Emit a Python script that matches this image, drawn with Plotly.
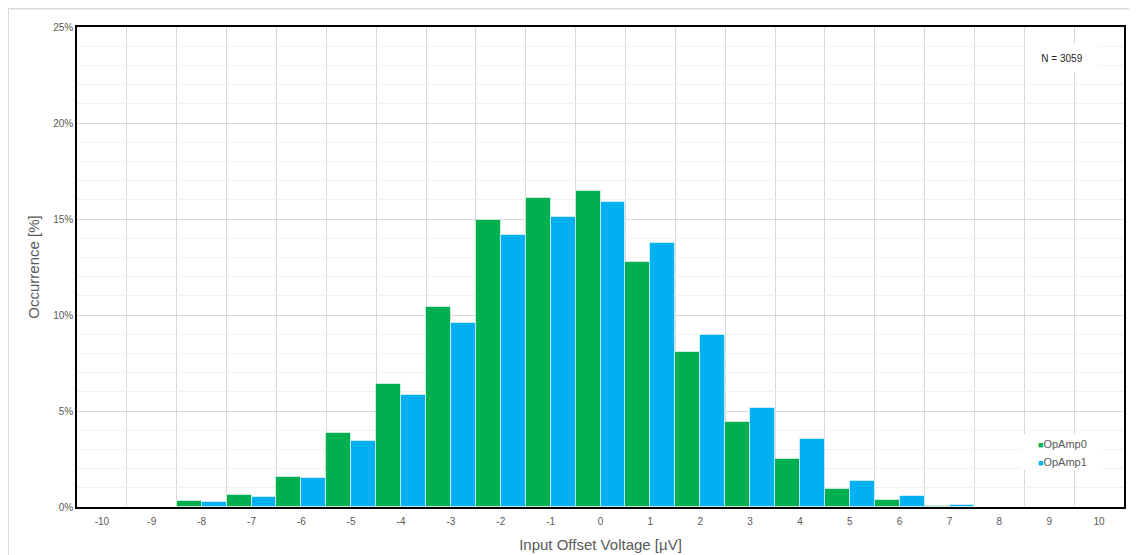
import plotly.graph_objects as go

categories = list(range(-10, 11))
opamp0 = [0, 0, 0.33, 0.62, 1.55, 3.85, 6.4, 10.4, 14.95, 16.1, 16.47, 12.76, 8.07, 4.41, 2.5, 0.94, 0.38, 0.05, 0, 0, 0]
opamp1 = [0, 0, 0.28, 0.52, 1.5, 3.45, 5.83, 9.6, 14.17, 15.1, 15.9, 13.75, 8.96, 5.17, 3.54, 1.37, 0.57, 0.12, 0, 0, 0]
series_names = ["OpAmp0", "OpAmp1"]
series_colors = ["#00B050", "#00B0F0"]
y_ticks = [0, 5, 10, 15, 20, 25]
boundaries = [c + 0.5 for c in categories[:-1]]

FONT = "Liberation Sans, Arial, sans-serif"
GREY = "#595959"

fig = go.Figure()
for name, vals, col in zip(series_names, [opamp0, opamp1], series_colors):
    fig.add_trace(go.Bar(
        x=categories, y=vals, name=name, showlegend=False,
        marker=dict(color=col, line=dict(color="rgba(255,255,255,0.55)", width=1)),
    ))

# page has an 8px body margin; compensate so plot area lands at (77..1124, 27..507)
OFF = 8
W, H = 1137 - OFF, 555 - OFF
L, R, T, B = 77 - OFF, 13, 27 - OFF, 48
pw, ph = W - L - R, H - T - B


def px(xp):
    return (xp - OFF - L) / pw


def py(yp):
    return (H - B - (yp - OFF)) / ph


legend_ann = []
for i, (name, col) in enumerate(zip(series_names, series_colors)):
    legend_ann.append(dict(
        text=f"<span style='color:{col};font-size:9px'>■</span>{name}",
        xref="paper", yref="paper", x=px(1036), y=py(444 + 18 * i),
        xanchor="left", yanchor="middle", showarrow=False,
        font=dict(size=11, color=GREY),
    ))

fig.update_layout(
    width=W, height=H,
    margin=dict(l=L, r=R, t=T, b=B, autoexpand=False),
    paper_bgcolor="white", plot_bgcolor="white",
    barmode="group", bargap=0, bargroupgap=0,
    font=dict(family=FONT, color=GREY, size=10),
    showlegend=False,
    xaxis=dict(
        range=[-10.5, 10.5], tickvals=categories, ticktext=[str(c) for c in categories],
        showgrid=False, zeroline=False, automargin=False,
        showline=True, linecolor="black", linewidth=1.5, mirror=True,
        ticks="", tickfont=dict(size=10, color=GREY), ticklabelstandoff=4,
        minor=dict(tickvals=boundaries, showgrid=True, gridcolor="#d9d9d9", gridwidth=1, ticks=""),
        title=dict(text="Input Offset Voltage [µV]", font=dict(size=15, color=GREY), standoff=14),
    ),
    yaxis=dict(
        range=[0, 25], tickvals=y_ticks, ticktext=[f"{v}%" for v in y_ticks],
        showgrid=True, gridcolor="#d9d9d9", gridwidth=1, zeroline=False, automargin=False,
        showline=True, linecolor="black", linewidth=1.5, mirror=True,
        ticks="", tickfont=dict(size=10, color=GREY),
        minor=dict(dtick=1, showgrid=True, gridcolor="#f0f0f0", gridwidth=1, ticks=""),
        title=dict(text="Occurrence [%]", font=dict(size=15, color=GREY), standoff=10),
    ),
    annotations=[dict(
        text="N = 3059", xref="paper", yref="paper",
        x=px(1062), y=py(58), xanchor="center", yanchor="middle",
        showarrow=False, bgcolor="white", font=dict(size=10, color="#262626"),
        width=62, height=18, borderpad=5,
    )] + legend_ann,
    shapes=[
        dict(type="rect", xref="paper", yref="paper", layer="below",
             x0=(0 - L) / pw, x1=(W + 5 - L) / pw,
             y0=(-10 - B) / ph, y1=(H - 0.5 - B) / ph,
             line=dict(color="#d9d9d9", width=2), fillcolor="rgba(0,0,0,0)"),
        dict(type="rect", xref="paper", yref="paper", layer="above",
             x0=px(1021), x1=px(1103), y0=py(470), y1=py(434),
             line=dict(width=0), fillcolor="white"),
    ],
)

fig.write_html("out.html")
